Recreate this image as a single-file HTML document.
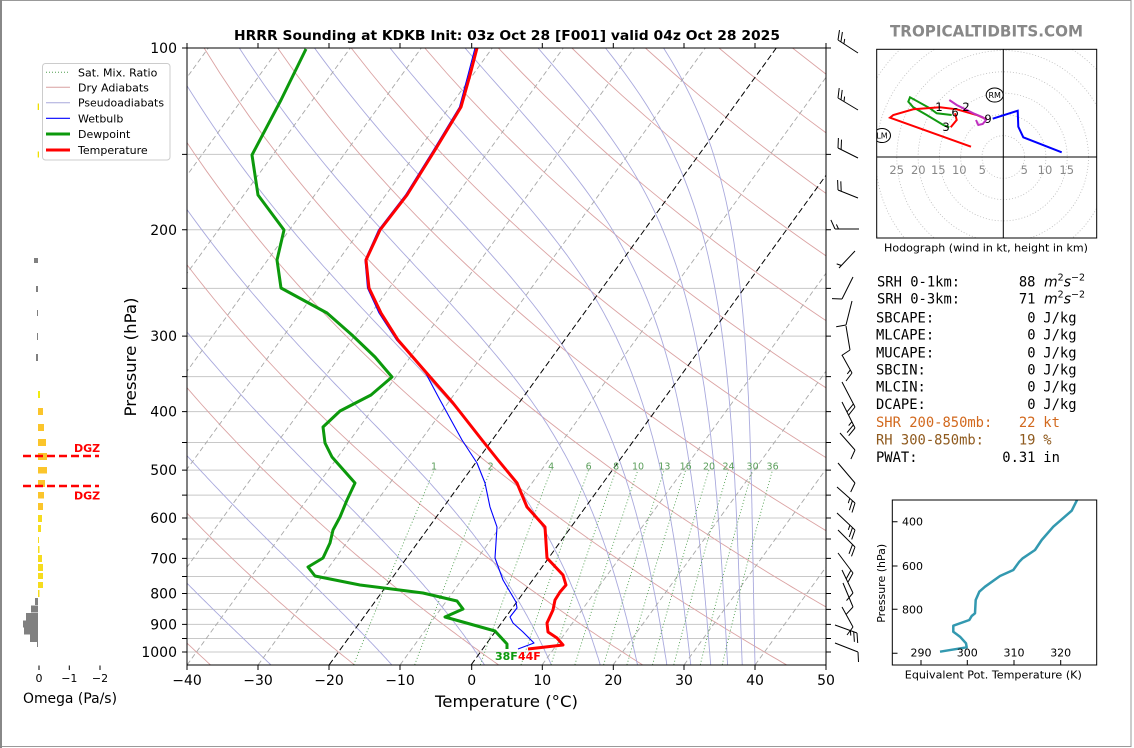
<!DOCTYPE html>
<html><head><meta charset="utf-8"><style>
html,body{margin:0;padding:0;background:#fff;}
svg{display:block;}
text{font-family:"DejaVu Sans","Liberation Sans",sans-serif;}
.mono{font-family:"DejaVu Sans Mono","Liberation Mono",monospace;font-size:13.8px;}
</style></head><body>
<svg id="svg" xmlns="http://www.w3.org/2000/svg" width="1134" height="748" viewBox="0 0 1134 748">
<defs>
<clipPath id="cm"><rect x="187" y="48" width="639" height="617"/></clipPath>
<clipPath id="ch"><rect x="876.7" y="49.3" width="220" height="188.7"/></clipPath>
<clipPath id="ct"><rect x="892.3" y="500" width="204.4" height="165"/></clipPath>
</defs>
<rect x="0" y="0" width="1134" height="748" fill="#fff"/>
<rect x="1" y="0.5" width="1130" height="746" fill="none" stroke="#999" stroke-width="1"/>
<line x1="1" y1="0" x2="1" y2="748" stroke="#888" stroke-width="2"/>

<!-- title -->
<text x="507" y="40" text-anchor="middle" font-weight="bold" font-size="13.5" textLength="546" lengthAdjust="spacingAndGlyphs">HRRR Sounding at KDKB Init: 03z Oct 28 [F001] valid 04z Oct 28 2025</text>
<text x="890" y="36.5" font-weight="bold" font-size="16" fill="#888" textLength="193" lengthAdjust="spacingAndGlyphs">TROPICALTIDBITS.COM</text>

<!-- main grid lines -->
<path d="M187 154.35H826M187 229.81H826M187 288.34H826M187 336.17H826M187 376.6H826M187 411.62H826M187 442.52H826M187 470.15H826M187 495.16H826M187 517.98H826M187 538.97H826M187 558.41H826M187 576.5H826M187 593.44H826M187 609.34H826M187 624.33H826M187 638.51H826M187 651.97H826" stroke="#c8c8c8" stroke-width="1" fill="none"/>

<g id="bg" clip-path="url(#cm)"></g>

<!-- mixing ratio labels -->
<g font-size="9.5" fill="#5a9e5a" text-anchor="middle">
<text x="434" y="469.5">1</text><text x="490.6" y="469.5">2</text><text x="551.2" y="469.5">4</text><text x="588.6" y="469.5">6</text><text x="616.1" y="469.5">8</text><text x="638" y="469.5">10</text><text x="664.4" y="469.5">13</text><text x="685.7" y="469.5">16</text><text x="709" y="469.5">20</text><text x="728.5" y="469.5">24</text><text x="752.6" y="469.5">30</text><text x="772.6" y="469.5">36</text>
</g>

<!-- profiles -->
<g clip-path="url(#cm)" fill="none" stroke-linejoin="round">
<polyline points="475,48 468,75 459.5,107 433.5,150 405.5,195 378.5,230 365,260 367.5,288 379,313 396.5,340 424,370 440,400 462,440 477,463 485,483 490,507 497,527 495,558 503,580 516,602 517,608 510,617 513,623 523,632 534,643 518,649" stroke="#0000ff" stroke-width="1.1"/>
<polyline points="306,49 281,100 252,155 258,195 284,230 277,260 281,288 327,313 352,335 375,357 392,377 371,395 340,411 323,427 325,443 332,457 355,483 347,500 340,517 333,530 330,543 323,558 308,567 315,576 360,585 423,593 457,601 463,609 445,617 495,631 507,644 507,649" stroke="#0c990c" stroke-width="3"/>
<polyline points="477,48 470,75 461,107 435,150 407,195 380,230 366,260 369,288 381,313 398,340 424,370 453,403 482,440 498,460 517,483 527,507 545,527 547,558 563,575 566,585 560,592 555,600 553,610 547,623 548,632 557,638 563,645 528,649" stroke="#ff0000" stroke-width="3"/>
</g>
<text x="495" y="660" font-size="11" font-weight="bold" fill="#0c990c">38F</text>
<text x="518" y="660" font-size="11" font-weight="bold" fill="#ff0000">44F</text>

<!-- main axes frame and ticks -->
<rect x="187" y="48" width="639" height="617" fill="none" stroke="#000" stroke-width="1"/>
<path d="M182 48H187M182 154.35H187M182 229.81H187M182 288.34H187M182 336.17H187M182 376.6H187M182 411.62H187M182 442.52H187M182 470.15H187M182 495.16H187M182 517.98H187M182 538.97H187M182 558.41H187M182 576.5H187M182 593.44H187M182 609.34H187M182 624.33H187M182 638.51H187M182 651.97H187" stroke="#000" stroke-width="1"/>
<path d="M826 48H831M826 154.35H831M826 229.81H831M826 288.34H831M826 336.17H831M826 376.6H831M826 411.62H831M826 442.52H831M826 470.15H831M826 495.16H831M826 517.98H831M826 538.97H831M826 558.41H831M826 576.5H831M826 593.44H831M826 609.34H831M826 624.33H831M826 638.51H831M826 651.97H831" stroke="#000" stroke-width="1"/>
<path d="M187 665V670M258 665V670M329 665V670M400 665V670M471.7 665V670M542.3 665V670M613.3 665V670M684 665V670M755 665V670M826 665V670M187 43V48M258 43V48M329 43V48M400 43V48M471.7 43V48M542.3 43V48M613.3 43V48M684 43V48M755 43V48M826 43V48" stroke="#000" stroke-width="1"/>
<g font-size="14" text-anchor="end">
<text x="177" y="53">100</text><text x="177" y="235">200</text><text x="177" y="341">300</text><text x="177" y="416.5">400</text><text x="177" y="475">500</text><text x="177" y="523">600</text><text x="177" y="563.5">700</text><text x="177" y="598.5">800</text><text x="177" y="629.5">900</text><text x="177" y="657">1000</text>
</g>
<g font-size="14" text-anchor="middle">
<text x="187" y="685">−40</text><text x="258" y="685">−30</text><text x="329" y="685">−20</text><text x="400" y="685">−10</text><text x="471.7" y="685">0</text><text x="542.3" y="685">10</text><text x="613.3" y="685">20</text><text x="684" y="685">30</text><text x="755" y="685">40</text><text x="826" y="685">50</text>
</g>
<text x="506.5" y="707" font-size="16" text-anchor="middle" textLength="143" lengthAdjust="spacingAndGlyphs">Temperature (°C)</text>
<text transform="translate(136,357) rotate(-90)" font-size="16" text-anchor="middle" textLength="119" lengthAdjust="spacingAndGlyphs">Pressure (hPa)</text>

<!-- legend -->
<rect x="42.5" y="63.5" width="127.5" height="96.5" rx="3" fill="#fff" fill-opacity="0.85" stroke="#cccccc" stroke-width="1"/>
<line x1="46" y1="72.3" x2="70" y2="72.3" stroke="#4e9e4e" stroke-width="1" stroke-dasharray="1,2"/>
<line x1="46" y1="87.3" x2="70" y2="87.3" stroke="#d8a0a0" stroke-width="1"/>
<line x1="46" y1="102.7" x2="70" y2="102.7" stroke="#a8a8dc" stroke-width="1"/>
<line x1="46" y1="118.3" x2="70" y2="118.3" stroke="#0000ff" stroke-width="1.2"/>
<line x1="46" y1="134" x2="70" y2="134" stroke="#0c990c" stroke-width="3"/>
<line x1="46" y1="150" x2="70" y2="150" stroke="#ff0000" stroke-width="3"/>
<g font-size="11">
<text x="78" y="76.3">Sat. Mix. Ratio</text>
<text x="78" y="91.3">Dry Adiabats</text>
<text x="78" y="106.7" textLength="86" lengthAdjust="spacingAndGlyphs">Pseudoadiabats</text>
<text x="78" y="122.3">Wetbulb</text>
<text x="78" y="138">Dewpoint</text>
<text x="78" y="154">Temperature</text>
</g>

<!-- omega panel -->
<g>
<rect x="37.7" y="103.5" width="1.3" height="6.5" fill="#f0e000"/>
<rect x="37.7" y="151.5" width="1.3" height="6" fill="#f0e000"/>
<g fill="#808080">
<rect x="34" y="258" width="4" height="5"/><rect x="36" y="286" width="2" height="6"/><rect x="37" y="310" width="1" height="6"/><rect x="37" y="333" width="1" height="7"/><rect x="36" y="354" width="2" height="7"/>
<rect x="35" y="598" width="3" height="7"/><rect x="31" y="605.5" width="7" height="7"/><rect x="26" y="613" width="12" height="7.5"/><rect x="23" y="620.5" width="15" height="7"/><rect x="24" y="627.5" width="14" height="7"/><rect x="30" y="634.5" width="8" height="7.5"/><rect x="37" y="642" width="1" height="5"/>
</g>
<rect x="38" y="391" width="2" height="7" fill="#f0ec10"/>
<g fill="#fbc52b">
<rect x="38" y="408" width="5" height="7"/><rect x="38" y="424" width="6" height="7"/><rect x="38" y="439" width="8" height="7"/><rect x="38" y="453" width="9" height="7"/><rect x="38" y="467" width="9" height="6.5"/><rect x="38" y="480" width="7" height="7"/><rect x="38" y="492" width="6" height="6.5"/><rect x="38" y="503" width="5" height="7"/>
</g>
<g fill="#f6dc1e">
<rect x="38" y="515" width="4" height="7"/><rect x="38" y="525" width="3" height="7"/><rect x="38" y="537" width="1" height="6"/><rect x="38" y="546" width="1.5" height="7"/><rect x="38" y="555" width="4" height="7"/><rect x="38" y="564" width="5" height="7"/><rect x="38" y="573" width="5" height="6"/><rect x="38" y="582" width="5" height="6"/><rect x="38" y="590" width="1.5" height="7"/>
</g>
<line x1="23" y1="456" x2="99" y2="456" stroke="#ff0000" stroke-width="2.5" stroke-dasharray="8,4"/>
<line x1="23" y1="486" x2="99" y2="486" stroke="#ff0000" stroke-width="2.5" stroke-dasharray="8,4"/>
<text x="74" y="452" font-size="11" font-weight="bold" fill="#ff0000">DGZ</text>
<text x="74" y="499.5" font-size="11" font-weight="bold" fill="#ff0000">DGZ</text>
<path d="M39 665.5V670M69.3 665.5V670M100 665.5V670" stroke="#000" stroke-width="1"/>
<g font-size="11" text-anchor="middle"><text x="39" y="682">0</text><text x="69.3" y="682">−1</text><text x="100" y="682">−2</text></g>
<text x="70" y="703" font-size="14" text-anchor="middle" textLength="94" lengthAdjust="spacingAndGlyphs">Omega (Pa/s)</text>
</g>

<!-- wind barbs -->
<g id="barbs" fill="none" stroke="#000" stroke-width="1"></g>

<!-- hodograph -->
<g clip-path="url(#ch)" fill="none">
<g stroke="#bbbbbb" stroke-width="0.8" stroke-dasharray="1,2">
<circle cx="1003.3" cy="157" r="21.3"/><circle cx="1003.3" cy="157" r="42.6"/><circle cx="1003.3" cy="157" r="63.9"/><circle cx="1003.3" cy="157" r="85.2"/><circle cx="1003.3" cy="157" r="106.5"/><circle cx="1003.3" cy="157" r="127.8"/><circle cx="1003.3" cy="157" r="149.1"/><circle cx="1003.3" cy="157" r="170.4"/>
</g>
<line x1="1003.3" y1="49" x2="1003.3" y2="238" stroke="#000" stroke-width="1"/>
<line x1="876" y1="157" x2="1097" y2="157" stroke="#000" stroke-width="1"/>
<polyline points="951.7,115 936.7,113.3 930,108.3 910,97.3 908.3,101.7 913.3,107.3 926.7,115 943.3,125 949.3,127.3" stroke="#119911" stroke-width="2"/>
<polyline points="971,146.7 890,117.7 893.3,115 913.3,109.3 940,107.3 956.7,109.3 976.7,115 986.7,119.3" stroke="#ff0000" stroke-width="2"/>
<polyline points="955,113.3 956.7,120 950.7,127.3" stroke="#ff0000" stroke-width="2"/>
<polyline points="949.3,100 956.7,105 963.3,108.3 973.3,113.3 982.7,117.3 986,120 982.7,124 978.3,125 976,120" stroke="#c030c0" stroke-width="2"/>
<polyline points="1061.7,152.3 1023.3,137.3 1018.3,126.7 1017.7,110.7 992.7,118.7" stroke="#0000ff" stroke-width="2"/>
<ellipse cx="994.7" cy="95" rx="8.5" ry="7" fill="#fff" stroke="#000" stroke-width="1"/>
<ellipse cx="882" cy="135.5" rx="8.5" ry="7" fill="#fff" stroke="#000" stroke-width="1"/>
</g>
<text x="994.7" y="98" font-size="8" text-anchor="middle">RM</text>
<text x="882" y="138.5" font-size="8" text-anchor="middle">LM</text>
<g font-size="11.5" text-anchor="middle">
<text x="939" y="111">1</text><text x="966" y="111">2</text><text x="955" y="116.5">6</text><text x="946" y="131">3</text><text x="988" y="123">9</text>
</g>
<rect x="876.7" y="49.3" width="220" height="188.7" fill="none" stroke="#000" stroke-width="1"/>
<g font-size="11.5" fill="#888" text-anchor="middle">
<text x="896.7" y="174">25</text><text x="918.3" y="174">20</text><text x="938.3" y="174">15</text><text x="959.3" y="174">10</text><text x="982.3" y="174">5</text><text x="1024.3" y="174">5</text><text x="1045" y="174">10</text><text x="1066.7" y="174">15</text>
</g>
<text x="986" y="251.5" font-size="11" text-anchor="middle" textLength="204" lengthAdjust="spacingAndGlyphs">Hodograph (wind in kt, height in km)</text>

<!-- stats -->
<g class="mono">
<text class="mono" x="877" y="286.5">SRH 0-1km:</text><text class="mono" x="1035.5" y="286.5" text-anchor="end">88</text>
<text class="mono" x="877" y="303.3">SRH 0-3km:</text><text class="mono" x="1035.5" y="303.3" text-anchor="end">71</text>
<text class="mono" x="876" y="322.7">SBCAPE:</text><text class="mono" x="1035.5" y="322.7" text-anchor="end">0</text><text class="mono" x="1043.3" y="322.7">J/kg</text>
<text class="mono" x="876" y="339.7">MLCAPE:</text><text class="mono" x="1035.5" y="339.7" text-anchor="end">0</text><text class="mono" x="1043.3" y="339.7">J/kg</text>
<text class="mono" x="876" y="357.7">MUCAPE:</text><text class="mono" x="1035.5" y="357.7" text-anchor="end">0</text><text class="mono" x="1043.3" y="357.7">J/kg</text>
<text class="mono" x="876" y="374.3">SBCIN:</text><text class="mono" x="1035.5" y="374.3" text-anchor="end">0</text><text class="mono" x="1043.3" y="374.3">J/kg</text>
<text class="mono" x="876" y="391.7">MLCIN:</text><text class="mono" x="1035.5" y="391.7" text-anchor="end">0</text><text class="mono" x="1043.3" y="391.7">J/kg</text>
<text class="mono" x="876" y="409">DCAPE:</text><text class="mono" x="1035.5" y="409" text-anchor="end">0</text><text class="mono" x="1043.3" y="409">J/kg</text>
<text class="mono" x="876" y="427" fill="#d2691e">SHR 200-850mb:</text><text class="mono" x="1035.5" y="427" text-anchor="end" fill="#d2691e">22</text><text class="mono" x="1043.3" y="427" fill="#d2691e">kt</text>
<text class="mono" x="876" y="444.3" fill="#8f5a1e">RH 300-850mb:</text><text class="mono" x="1035.5" y="444.3" text-anchor="end" fill="#8f5a1e">19</text><text class="mono" x="1043.3" y="444.3" fill="#8f5a1e">%</text>
<text class="mono" x="876" y="462">PWAT:</text><text class="mono" x="1035.5" y="462" text-anchor="end">0.31</text><text class="mono" x="1043.3" y="462">in</text>
</g>
<text x="1044" y="286.5" font-size="14" font-style="italic">m<tspan font-size="9.5" dy="-6" font-style="normal">2</tspan><tspan dy="6">s</tspan><tspan font-size="9.5" dy="-6" font-style="normal">−2</tspan></text>
<text x="1044" y="303.3" font-size="14" font-style="italic">m<tspan font-size="9.5" dy="-6" font-style="normal">2</tspan><tspan dy="6">s</tspan><tspan font-size="9.5" dy="-6" font-style="normal">−2</tspan></text>

<!-- theta-e panel -->
<polyline clip-path="url(#ct)" points="1078,497 1076.7,500.7 1071.7,510.7 1053.3,526.7 1041.7,540 1035,550 1022.7,558.3 1019.3,561.7 1013.3,570 1000,576 985,586.7 979.3,591.7 975.7,600 975,613.3 971.7,616 969.3,620 953.3,625.7 953.3,631.7 960,636.7 966,643.3 966.7,647.3 940,651.7" fill="none" stroke="#3399b0" stroke-width="2.5" stroke-linejoin="round"/>
<rect x="892.3" y="500" width="204.4" height="165" fill="none" stroke="#000" stroke-width="1"/>
<path d="M892.3 521.7H897.5M892.3 566H897.5M892.3 609.3H897.5M892.3 653.3H897.5M921 665V660M967.3 665V660M1014 665V660M1060.7 665V660" stroke="#000" stroke-width="1"/>
<g font-size="11">
<text x="902" y="525.7">400</text><text x="902" y="570">600</text><text x="902" y="613.3">800</text>
</g>
<g font-size="11" text-anchor="middle">
<text x="921" y="656.3">290</text><text x="967.3" y="656.3">300</text><text x="1014" y="656.3">310</text><text x="1060.7" y="656.3">320</text>
</g>
<text transform="translate(885,583.3) rotate(-90)" font-size="11" text-anchor="middle">Pressure (hPa)</text>
<text x="993.3" y="678.3" font-size="11" text-anchor="middle" textLength="177" lengthAdjust="spacingAndGlyphs">Equivalent Pot. Temperature (K)</text>
</svg>
<script>
(function(){
var NS='http://www.w3.org/2000/svg';
var g=document.getElementById('bg');
function yP(p){return 48+262.3*Math.log(p/100);}
function xT(T,p){return 187+(T+40)*7.1+0.725*(665-yP(p));}
function path(parent,pts,attrs){var e=document.createElementNS(NS,'path');var d='';for(var i=0;i<pts.length;i++){d+=(i?'L':'M')+pts[i][0].toFixed(1)+','+pts[i][1].toFixed(1);}e.setAttribute('d',d);e.setAttribute('fill','none');for(var k in attrs)e.setAttribute(k,attrs[k]);parent.appendChild(e);}
var ps=[];for(var p=1050;p>=100;p-=10)ps.push(p);
// dry adiabats (every 20 C)
for(var th=-40;th<=260;th+=20){var K=th+273.15;path(g,ps.map(function(p){return [xT(K*Math.pow(p/1000,0.2857)-273.15,p),yP(p)];}),{stroke:'#dba3a3','stroke-width':0.9});}
// moist adiabats
function es(T){return 6.112*Math.exp(17.67*T/(T+243.5));}
function rs(T,p){var e=es(T);if(e>p*0.5)e=p*0.5;return 0.622*e/(p-e);}
function dTdp(T,p){var Tk=T+273.15,r=rs(T,p);return (287.04*Tk+2.501e6*r)/(1005.7+2.501e6*2.501e6*r*0.622/(287.04*Tk*Tk))/p;}
function thE(T){var Tk=T+273.15,r=rs(T,1000)*1000;return Tk*Math.exp((3.376/Tk-0.00254)*r*(1+0.00081*r));}
function solve(te){var a=-90,b=50;for(var i=0;i<60;i++){var m=(a+b)/2;if(thE(m)<te)a=m;else b=m;}return (a+b)/2;}
for(var te=222.5;te<=462.6;te+=20){var t0=solve(te);var T=t0,pp=1000;var up=[[T,pp]];
 while(pp>100){var h=-5;var k1=dTdp(T,pp);var k2=dTdp(T+h*k1,pp+h);T+=h*(k1+k2)/2;pp+=h;up.push([T,pp]);}
 T=t0;pp=1000;var dn=[];while(pp<1050){var h2=5;var q1=dTdp(T,pp);var q2=dTdp(T+h2*q1,pp+h2);T+=h2*(q1+q2)/2;pp+=h2;dn.push([T,pp]);}
 var all=dn.reverse().concat(up);
 path(g,all.map(function(q){return [xT(q[0],q[1]),yP(q[1])];}),{stroke:'#a9a9dd','stroke-width':0.9});}
// isotherms
for(var Ti=-140;Ti<=50;Ti+=10){var blk=(Ti===0||Ti===-20);
 path(g,[[xT(Ti,1050),yP(1050)],[xT(Ti,100),yP(100)]],{stroke:blk?'#000':'#a8a8a8','stroke-width':blk?1:0.9,'stroke-dasharray':blk?'6,3':'5,3'});}
// mixing ratio
var ws=[1,2,4,6,8,10,13,16,20,24,30,36];
ws.forEach(function(w){var pts=[];for(var p=1050;p>=500;p-=10){var e=p*(w/1000)/(0.622+w/1000);var l=Math.log(e/6.112);var Td=243.5*l/(17.67-l);pts.push([xT(Td,p),yP(p)]);}
 path(g,pts,{stroke:'#4e9e4e','stroke-width':0.9,'stroke-dasharray':'1,2.2'});});
// barbs
var bg=document.getElementById('barbs');
var B=[[858,53,838,40,2,1],[858,110,838,98,2,1],[858,158,838,148,2,0],[858,198,838,190,2,0],[859,229,835,229,1,1],[855,251,839,268,0,1],[853,277,842,299,1,0],[852,301,846,325,1,0],[846,326,850,350,1,0],[842,355,852,373,1,1],[842,382,855,407,2,0],[842,402,855,428,2,1],[840,433,855,450,1,0],[838,463,855,483,1,0],[837,487,855,503,2,1],[837,513,855,530,2,1],[838,530,855,547,2,0],[838,553,853,573,2,0],[842,570,853,593,1,0],[843,583,853,607,1,0],[842,607,853,627,1,0],[835,625,857,633,2,1],[835,643,858,652,1,0]];
B.forEach(function(b){var bx=b[0],by=b[1],tx=b[2],ty=b[3],nf=b[4],nh=b[5];
 var dx=tx-bx,dy=ty-by,L=Math.hypot(dx,dy),ux=dx/L,uy=dy/L;var px=-uy,py=ux;
 var fx=px+0.45*ux,fy=py+0.45*uy,fl=Math.hypot(fx,fy);fx/=fl;fy/=fl;
 var d='M'+bx+','+by+'L'+tx+','+ty;var s=0;
 for(var i=0;i<nf;i++){var sx=tx-ux*s,sy=ty-uy*s;d+='M'+sx.toFixed(1)+','+sy.toFixed(1)+'l'+(fx*10).toFixed(1)+','+(fy*10).toFixed(1);s+=3.5;}
 if(nh){if(nf===0)s=3.5;var hx=tx-ux*s,hy=ty-uy*s;d+='M'+hx.toFixed(1)+','+hy.toFixed(1)+'l'+(fx*5).toFixed(1)+','+(fy*5).toFixed(1);}
 var e=document.createElementNS(NS,'path');e.setAttribute('d',d);bg.appendChild(e);});
})();
</script>
</body></html>
